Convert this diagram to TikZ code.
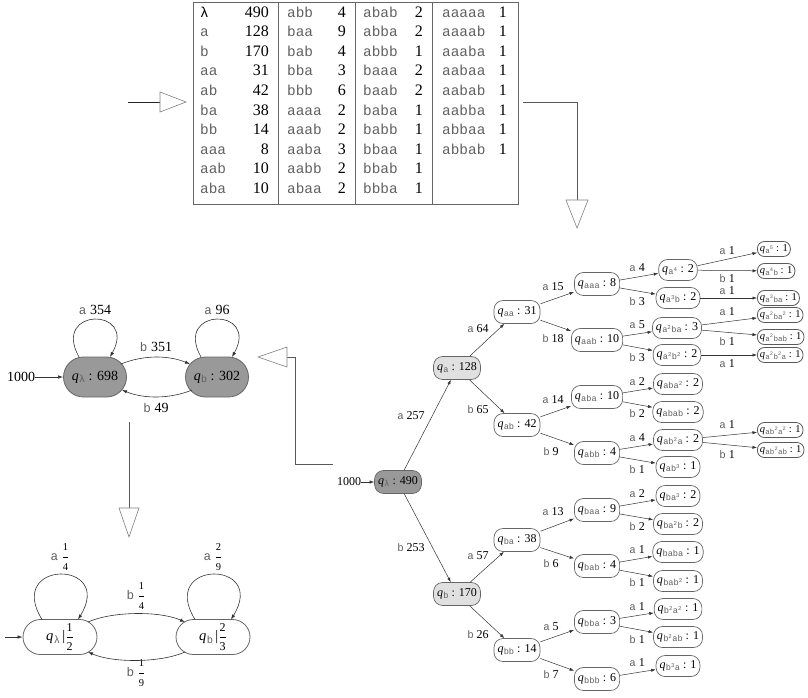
\documentclass[tikz,border=0pt]{standalone}
\usepackage{fontspec}
\setmainfont{Liberation Serif}
\setmonofont{Liberation Mono}[Scale=0.9]
\usepackage{amsmath}
\usepackage{graphicx}
\usetikzlibrary{arrows.meta,calc}
\newcommand\mytw[1]{{\ttfamily\color{black!62}#1}}
\newcommand\myq[1]{\textit{q}\kern0.3pt\raisebox{-0.35ex}{\scalebox{0.8}{\mytw{#1}}}}
\newcommand\mypw[1]{\textsuperscript{#1}}
\newcommand\myfr[3]{$\genfrac{}{}{0.5pt}{0}{\text{\fontsize{#1}{#1}\selectfont #2}}{\text{\fontsize{#1}{#1}\selectfont #3}}$}
\tikzset{
  tabcell/.style={inner sep=0pt, font=\fontsize{16}{19}\selectfont, text height=11pt, text depth=3pt},
  treenode/.style={draw=black!60, line width=0.7pt, rounded corners=9pt, minimum height=23pt, inner xsep=3.5pt, inner ysep=0pt, font=\fontsize{12}{14}\selectfont, fill=white},
  treeleaf/.style={draw=black!65, line width=0.8pt, rounded corners=7pt, minimum height=15pt, inner xsep=2.5pt, inner ysep=0pt, font=\fontsize{10.5}{12}\selectfont, fill=white},
  edgelab/.style={inner sep=0pt, font=\fontsize{12}{14}\selectfont},
  treeedge/.style={-{Latex[length=4.5pt,width=3.2pt]}, draw=black!80, line width=0.5pt},
  flowline/.style={draw=black!65, line width=0.9pt},
  flowtri/.style={draw=black!50, fill=white, line width=0.6pt},
  autnode/.style={draw=black!60, line width=0.8pt, rounded corners=20pt, minimum width=63pt, minimum height=40pt, inner sep=0pt, fill=black!40, font=\fontsize{14}{16}\selectfont},
  autnodeb/.style={draw=black!60, line width=0.8pt, rounded corners=17.5pt, minimum width=74pt, minimum height=35pt, inner sep=0pt, fill=white, font=\fontsize{14.5}{16}\selectfont},
  autlab/.style={inner sep=0pt, font=\fontsize{14}{16}\selectfont},
  autedge/.style={-{Latex[length=5pt,width=3.5pt]}, draw=black!80, line width=0.6pt},
}
\begin{document}
\begin{tikzpicture}[x=1pt,y=-1pt]
\useasboundingbox (0,0) rectangle (808,697);

% ---------------- table ----------------
\draw[draw=black!60, line width=0.8pt] (193,2) rectangle (518,204);
\foreach \xx in {278,355,432} \draw[draw=black!60, line width=0.8pt] (\xx,2) -- (\xx,204);
\foreach \l/\n [count=\i] in {{\color{black}λ}/490,a/128,b/170,aa/31,ab/42,ba/38,bb/14,aaa/8,aab/10,aba/10} {
  \node[tabcell, anchor=west] (tla\i) at (200,{13+19.6*(\i-1)}) {\mytw{\l}};
  \node[tabcell, anchor=east] (tna\i) at (269,{13+19.6*(\i-1)}) {\n};
}
\foreach \l/\n [count=\i] in {abb/4,baa/9,bab/4,bba/3,bbb/6,aaaa/2,aaab/2,aaba/3,aabb/2,abaa/2} {
  \node[tabcell, anchor=west] (tlb\i) at (287,{13+19.6*(\i-1)}) {\mytw{\l}};
  \node[tabcell, anchor=east] (tnb\i) at (346,{13+19.6*(\i-1)}) {\n};
}
\foreach \l/\n [count=\i] in {abab/2,abba/2,abbb/1,baaa/2,baab/2,baba/1,babb/1,bbaa/1,bbab/1,bbba/1} {
  \node[tabcell, anchor=west] (tlc\i) at (363,{13+19.6*(\i-1)}) {\mytw{\l}};
  \node[tabcell, anchor=east] (tnc\i) at (423,{13+19.6*(\i-1)}) {\n};
}
\foreach \l/\n [count=\i] in {aaaaa/1,aaaab/1,aaaba/1,aabaa/1,aabab/1,aabba/1,abbaa/1,abbab/1} {
  \node[tabcell, anchor=west] (tld\i) at (442,{13+19.6*(\i-1)}) {\mytw{\l}};
  \node[tabcell, anchor=east] (tnd\i) at (507,{13+19.6*(\i-1)}) {\n};
}

% ---------------- flow arrows ----------------
\coordinate (f1a) at (128,102);
\coordinate (f1b) at (160,102);
\draw[flowline, draw=black!85, line width=0.6pt] (f1a) -- (f1b);
\draw[flowtri] (160,92) -- (186,102) -- (160,112) -- cycle;

\coordinate (f2a) at (523,102);
\coordinate (f2b) at (577,200);
\draw[flowline] (f2a) -| (f2b);
\draw[flowtri] (566,200) -- (588,200) -- (577,228) -- cycle;

\coordinate (f3a) at (287,357);
\coordinate (f3b) at (333,464);
\draw[flowline] (f3a) -- (295,357) |- (f3b);
\draw[flowtri] (287,347) -- (258,357) -- (287,367) -- cycle;

\coordinate (f4a) at (129,422);
\coordinate (f4b) at (129,508);
\draw[flowline] (f4a) -- (f4b);
\draw[flowtri] (119,508) -- (139,508) -- (129,537) -- cycle;

% ---------------- top-left automaton ----------------
\node[autnode] (qlt) at (95,377) {\myq{λ} : 698};
\node[autnode] (qbt) at (217,377) {\myq{b} : 302};
\node[autlab] (in1) at (21,377) {1000};
\node[autlab] (la1) at (95,310) {\mytw{a} 354};
\node[autlab] (la2) at (217,310) {\mytw{a} 96};
\node[autlab] (la3) at (156,347) {\mytw{b} 351};
\node[autlab] (la4) at (156,408) {\mytw{b} 49};
\draw[autedge] (in1) -- (qlt);
\draw[autedge] ($(qlt.center)+(-16,-20)$) .. controls +(-28,-50) and +(28,-50) .. ($(qlt.center)+(15,-20)$);
\draw[autedge] ($(qbt.center)+(-16,-20)$) .. controls +(-28,-50) and +(28,-50) .. ($(qbt.center)+(15,-20)$);
\draw[autedge] ($(qlt.center)+(26,-13)$) .. controls +(22,-9) and +(-22,-9) .. ($(qbt.center)+(-27,-13)$);
\draw[autedge] ($(qbt.center)+(-25,13)$) .. controls +(-22,9) and +(22,9) .. ($(qlt.center)+(27,13)$);

% ---------------- bottom-left automaton ----------------
\node[autnodeb] (qlb) at (60,637) {\myq{λ}\,|\myfr{12}{1}{2}};
\node[autnodeb] (qbb2) at (213,637) {\myq{b}\,|\myfr{12}{2}{3}};
\coordinate (in2) at (5,637);
\node[autlab] (lb1) at (60,557) {\mytw{a} \myfr{10.5}{1}{4}};
\node[autlab] (lb2) at (213,557) {\mytw{a} \myfr{10.5}{2}{9}};
\node[autlab] (lb3) at (136,596) {\mytw{b} \myfr{10.5}{1}{4}};
\node[autlab] (lb4) at (136,673) {\mytw{b} \myfr{10.5}{1}{9}};
\draw[autedge] (in2) -- (qlb);
\draw[autedge] ($(qlb.center)+(-18,-17.5)$) .. controls +(-37,-60) and +(37,-60) .. ($(qlb.center)+(18,-17.5)$);
\draw[autedge] ($(qbb2.center)+(-18,-17.5)$) .. controls +(-37,-60) and +(37,-60) .. ($(qbb2.center)+(18,-17.5)$);
\draw[autedge] ($(qlb.center)+(28,-15)$) .. controls +(25,-11) and +(-25,-11) .. ($(qbb2.center)+(-28,-15)$);
\draw[autedge] ($(qbb2.center)+(-28,15)$) .. controls +(-25,11) and +(25,11) .. ($(qlb.center)+(28,15)$);

% ---------------- prefix tree ----------------
\node[treenode, fill=black!40] (r) at (398,482) {\myq{λ} : 490};
\node[edgelab] (in3) at (349,482) {1000};
\draw[treeedge] (in3) -- (r);

\node[treenode, fill=black!12] (qa) at (457,368) {\myq{a} : 128};
\node[treenode, fill=black!12] (qb) at (457,594) {\myq{b} : 170};

\node[treenode] (qaa) at (517,312) {\myq{aa} : 31};
\node[treenode] (qab) at (517,425) {\myq{ab} : 42};
\node[treenode] (qba) at (517,540) {\myq{ba} : 38};
\node[treenode] (qbb) at (517,650) {\myq{bb} : 14};

\node[treenode] (qaaa) at (597,284) {\myq{aaa} : 8};
\node[treenode] (qaab) at (597,340) {\myq{aab} : 10};
\node[treenode] (qaba) at (597,397) {\myq{aba} : 10};
\node[treenode] (qabb) at (597,453) {\myq{abb} : 4};
\node[treenode] (qbaa) at (597,510) {\myq{baa} : 9};
\node[treenode] (qbab) at (597,566) {\myq{bab} : 4};
\node[treenode] (qbba) at (597,622) {\myq{bba} : 3};
\node[treenode] (qbbb) at (597,679) {\myq{bbb} : 6};

\node[treenode, minimum height=21pt] (a4) at (678,270) {\myq{a\mypw{4}} : 2};
\node[treenode, minimum height=21pt] (a3b) at (678,298) {\myq{a\mypw{3}b} : 2};
\node[treenode, minimum height=21pt] (a2ba) at (677,328) {\myq{a\mypw{2}ba} : 3};
\node[treenode, minimum height=21pt] (a2b2) at (677,355) {\myq{a\mypw{2}b\mypw{2}} : 2};
\node[treenode, minimum height=21pt] (aba2) at (678,384) {\myq{aba\mypw{2}} : 2};
\node[treenode, minimum height=21pt] (abab) at (678,412) {\myq{abab} : 2};
\node[treenode, minimum height=21pt] (ab2a) at (678,440) {\myq{ab\mypw{2}a} : 2};
\node[treenode, minimum height=21pt] (ab3) at (678,467) {\myq{ab\mypw{3}} : 1};
\node[treenode, minimum height=21pt] (ba3) at (678,496) {\myq{ba\mypw{3}} : 2};
\node[treenode, minimum height=21pt] (ba2b) at (678,524) {\myq{ba\mypw{2}b} : 2};
\node[treenode, minimum height=21pt] (baba) at (678,552) {\myq{baba} : 1};
\node[treenode, minimum height=21pt] (bab2) at (678,581) {\myq{bab\mypw{2}} : 1};
\node[treenode, minimum height=21pt] (b2a2) at (678,609) {\myq{b\mypw{2}a\mypw{2}} : 1};
\node[treenode, minimum height=21pt] (b2ab) at (678,637) {\myq{b\mypw{2}ab} : 1};
\node[treenode, minimum height=21pt] (b3a) at (678,666) {\myq{b\mypw{3}a} : 1};

\node[treeleaf, anchor=west] (a5) at (757,249) {\myq{a\mypw{5}} : 1};
\node[treeleaf, anchor=west] (a4b) at (757,271) {\myq{a\mypw{4}b} : 1};
\node[treeleaf, anchor=west] (a3ba) at (757,298) {\myq{a\mypw{3}ba} : 1};
\node[treeleaf, anchor=west] (a2ba2) at (757,315) {\myq{a\mypw{2}ba\mypw{2}} : 1};
\node[treeleaf, anchor=west] (a2bab) at (757,337) {\myq{a\mypw{2}bab} : 1};
\node[treeleaf, anchor=west] (a2b2a) at (757,355) {\myq{a\mypw{2}b\mypw{2}a} : 1};
\node[treeleaf, anchor=west] (ab2a2) at (757,430) {\myq{ab\mypw{2}a\mypw{2}} : 1};
\node[treeleaf, anchor=west] (ab2ab) at (757,450) {\myq{ab\mypw{2}ab} : 1};

\foreach \u/\v in {r/qa,r/qb,qa/qaa,qa/qab,qb/qba,qb/qbb,
  qaa/qaaa,qaa/qaab,qab/qaba,qab/qabb,qba/qbaa,qba/qbab,qbb/qbba,qbb/qbbb,
  qaaa/a4,qaaa/a3b,qaab/a2ba,qaab/a2b2,qaba/aba2,qaba/abab,qabb/ab2a,qabb/ab3,
  qbaa/ba3,qbaa/ba2b,qbab/baba,qbab/bab2,qbba/b2a2,qbba/b2ab,qbbb/b3a,
  a4/a5,a4/a4b,a3b/a3ba,a2ba/a2ba2,a2ba/a2bab,a2b2/a2b2a,ab2a/ab2a2,ab2a/ab2ab}
  \draw[treeedge] (\u) -- (\v);

\foreach \c/\n/\x/\y [count=\k] in {
  a/257/411/416, b/253/411/548,
  a/64/478/329, b/65/478/410, a/57/478/556, b/26/478/635,
  a/15/553/287, b/18/553/339, a/14/553/400, b/9/551/452,
  a/13/553/512, b/6/551/564, a/5/551/627, b/7/551/675,
  a/4/637/268, b/3/637/302, a/5/637/325, b/3/637/358,
  a/2/637/382, b/2/637/414, a/4/637/438, b/1/637/470,
  a/2/637/494, b/2/637/527, a/1/637/550, b/1/637/583,
  a/1/637/607, b/1/637/640, a/1/637/663,
  a/1/727/251, b/1/727/279, a/1/727/291, a/1/727/312,
  b/1/727/342, a/1/727/364, a/1/727/425, b/1/727/455}
  \node[edgelab] (el\k) at (\x,\y) {\mytw{\c} \n};

\end{tikzpicture}
\end{document}
